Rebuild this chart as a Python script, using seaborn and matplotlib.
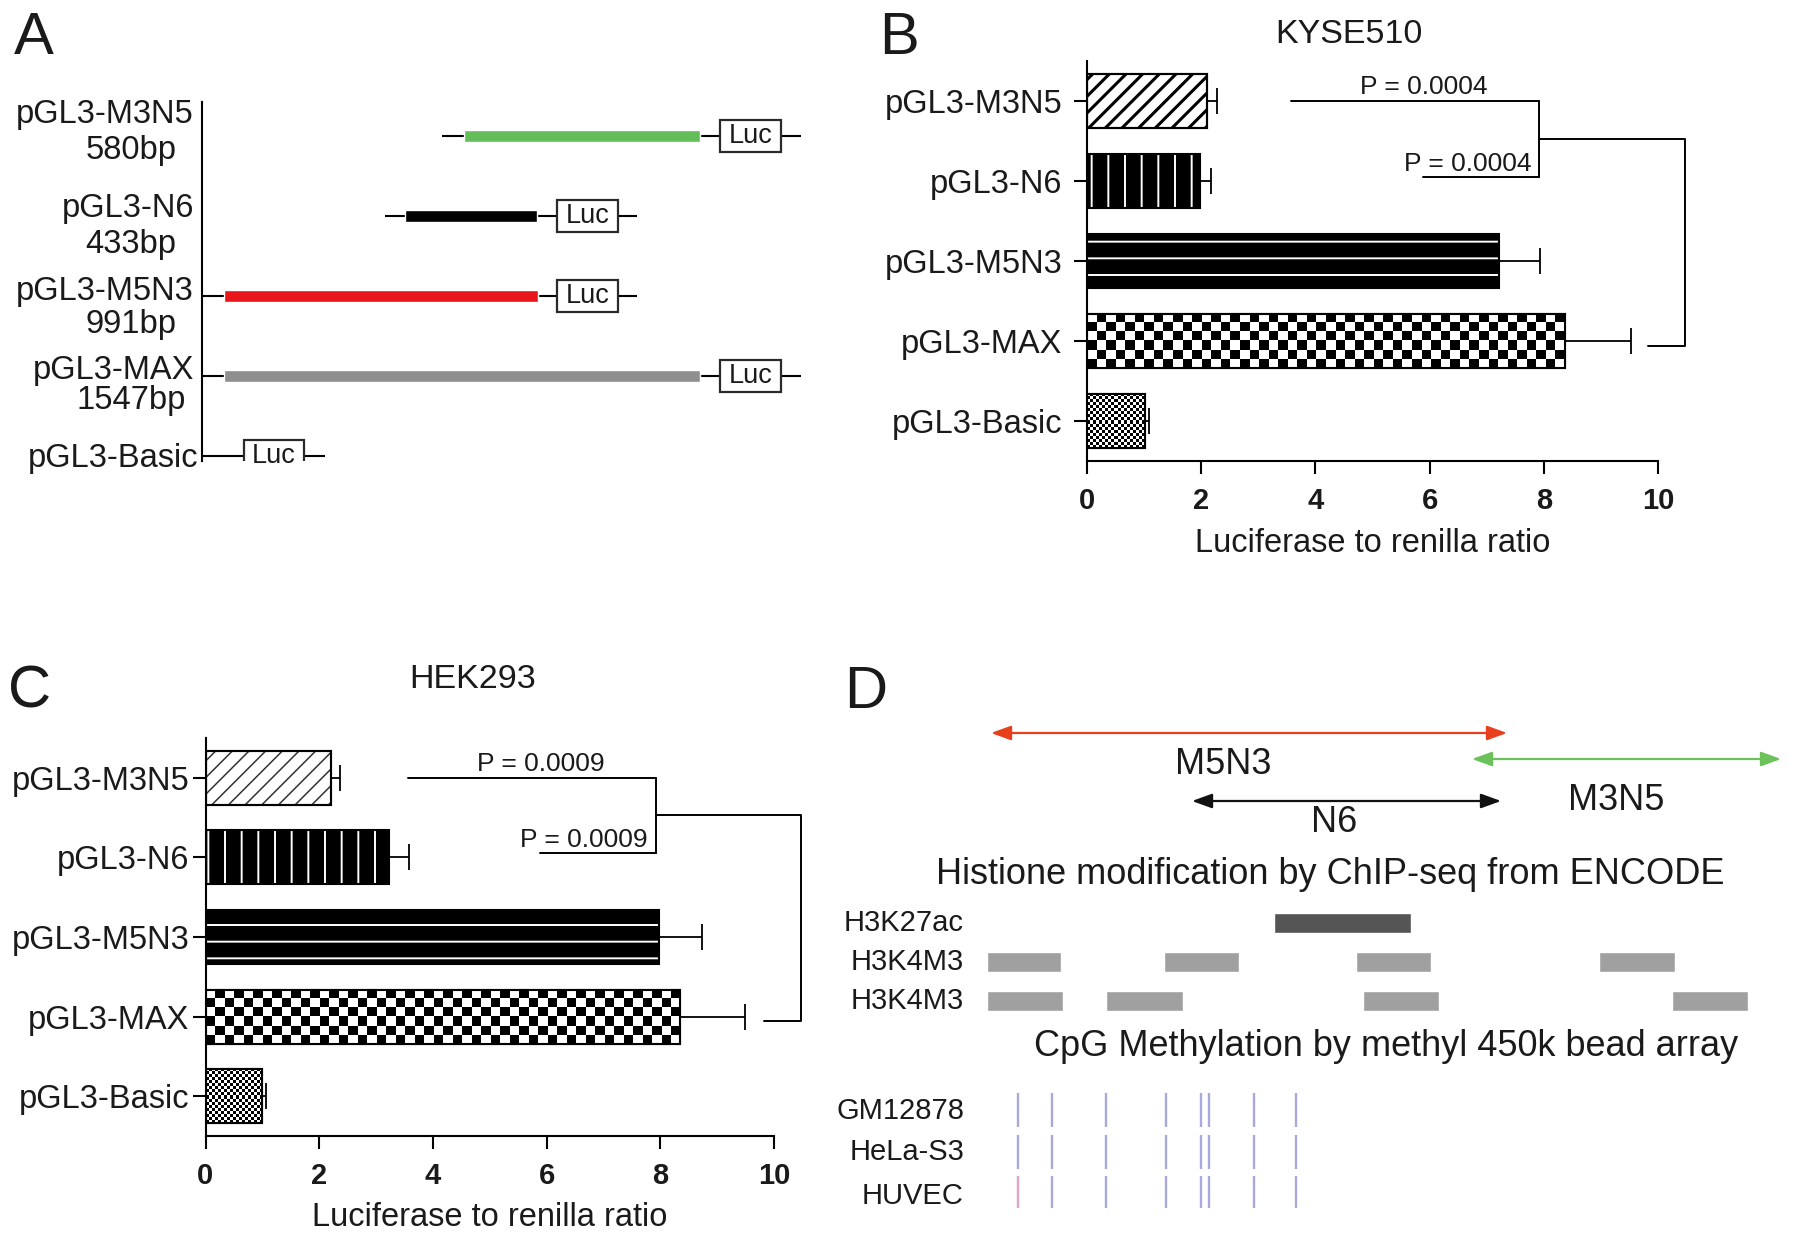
import numpy as np
import matplotlib
matplotlib.use('Agg')
import matplotlib.pyplot as plt
from matplotlib.patches import Rectangle
from matplotlib.colors import ListedColormap
import seaborn as sns

# ---- panel A: reporter constructs (schematic map units) ----
constructs = ['pGL3-M3N5', 'pGL3-N6', 'pGL3-M5N3', 'pGL3-MAX', 'pGL3-Basic']
construct_sizes = ['580bp', '433bp', '991bp', '1547bp']
insert_start = [262, 203, 22, 22]
insert_end = [498, 335, 336, 498]
insert_colors = ['#63be5a', '#000000', '#e8161b', '#8f8f8f']
backbone_start = [240, 183, 0, 0, 0]
backbone_end = [599, 435, 435, 599, 123]
luc_start = [518, 355, 355, 518, 42]
luc_end = [579, 416, 416, 579, 102]

# ---- panels B / C: luciferase to renilla ratio ----
kyse_mean = [2.11, 1.98, 7.22, 8.37, 1.01]
kyse_err = [0.17, 0.19, 0.71, 1.15, 0.08]
hek_mean = [2.20, 3.22, 7.98, 8.35, 0.99]
hek_err = [0.16, 0.36, 0.75, 1.14, 0.07]
kyse_p = ['P = 0.0004', 'P = 0.0004']
hek_p = ['P = 0.0009', 'P = 0.0009']
xticks = [0, 2, 4, 6, 8, 10]

# ---- panel D: genome tracks (relative position) ----
region_names = ['M5N3', 'N6', 'M3N5']
region_start = [171, 372, 652]
region_end = [687, 681, 961]
region_colors = ['#e8401c', '#111111', '#6cc25a']
h3k27ac_start = [454]
h3k27ac_end = [591]
h3k4m3_a_start = [167, 344, 536, 779]
h3k4m3_a_end = [241, 419, 611, 855]
h3k4m3_b_start = [167, 286, 543, 852]
h3k4m3_b_end = [243, 363, 619, 928]
cpg_pos = [198, 232, 286, 346, 381, 389, 434, 476]
cell_lines = ['GM12878', 'HeLa-S3', 'HUVEC']

sns.set_theme(style='ticks')
plt.rcParams['font.family'] = ['Liberation Sans', 'DejaVu Sans']
plt.rcParams['text.color'] = '#1a1a1a'
plt.rcParams['axes.edgecolor'] = 'black'
plt.rcParams['xtick.color'] = 'black'
plt.rcParams['ytick.color'] = 'black'
plt.rcParams['xtick.labelcolor'] = '#1a1a1a'
plt.rcParams['ytick.labelcolor'] = '#1a1a1a'
plt.rcParams['axes.labelcolor'] = '#1a1a1a'
plt.rcParams['hatch.linewidth'] = 1.4

W, H = 1795, 1243
fig = plt.figure(figsize=(W / 100, H / 100), dpi=100)


def px_axes(x0, y0, x1, y1):
    return fig.add_axes([x0 / W, 1 - y1 / H, (x1 - x0) / W, (y1 - y0) / H])


def checker(ax, bar, sq, ppx, ppy):
    x0, y0, w, h = bar.get_x(), bar.get_y(), bar.get_width(), bar.get_height()
    nr = max(2, int(round(h * ppy / sq)))
    nc = max(2, int(round(w * ppx / sq)))
    arr = np.add.outer(np.arange(nr), np.arange(nc)) % 2
    im = ax.imshow(arr, extent=(x0, x0 + w, y0 + h, y0), aspect='auto',
                   interpolation='nearest', cmap=ListedColormap(['white', 'black']),
                   zorder=2.5)
    im.set_clip_path(bar)


def luciferase_panel(ax, means, errs, pvals, title, title_xy, ytick_pad, xlab_pad,
                     diag_color, diag_lw):
    sns.barplot(x=means, y=constructs, orient='h', ax=ax, color='white', saturation=1,
                edgecolor='black', linewidth=1.5, width=0.68, errorbar=None)
    ax.set_xlim(0, 10)
    ax.set_ylim(4.5, -0.5)
    bb = ax.get_position()
    ppx = bb.width * W / 10
    ppy = bb.height * H / 5
    bars = list(ax.patches)[:5]
    for i, bar in enumerate(bars):
        if i == 0:
            bar.set_edgecolor(diag_color)
            bar.set_hatch('//')
            if hasattr(bar, 'set_hatch_linewidth'):
                bar.set_hatch_linewidth(diag_lw)
        elif i in (1, 2):
            bar.set_facecolor('black')
            bar.set_edgecolor('white')
            bar.set_linewidth(0)
            bar.set_hatch('|' if i == 1 else '-')
        elif i == 3:
            checker(ax, bar, 9.5, ppx, ppy)
        else:
            checker(ax, bar, 3.0, ppx, ppy)
        ax.add_patch(Rectangle((bar.get_x(), bar.get_y()), bar.get_width(), bar.get_height(),
                               fill=False, edgecolor='black', lw=1.5, zorder=3))
    ax.set_xlim(0, 10)
    ax.set_ylim(4.5, -0.5)
    ax.errorbar(means, np.arange(5), xerr=[np.zeros(5), errs], fmt='none', ecolor='black',
                elinewidth=1.3, capsize=9.5, capthick=1.3, zorder=4)

    # significance brackets
    kw = dict(color='black', lw=1.4, clip_on=False)
    ax.plot([3.57, 7.92], [0, 0], **kw)
    ax.plot([5.88, 7.92], [0.95, 0.95], **kw)
    ax.plot([7.92, 7.92], [0, 0.95], **kw)
    ax.plot([7.92, 10.47, 10.47, 9.82], [0.47, 0.47, 3.06, 3.06], **kw)
    ax.text(5.89, -0.09, pvals[0], ha='center', va='baseline', fontsize=19)
    ax.text(6.66, 0.87, pvals[1], ha='center', va='baseline', fontsize=19)

    ax.set_xticks(xticks)
    ax.tick_params(axis='x', length=9, width=1.5, pad=10, labelsize=21)
    ax.tick_params(axis='y', length=9.5, width=1.5, pad=ytick_pad, labelsize=23.5)
    for lbl in ax.get_xticklabels():
        lbl.set_fontweight('bold')
    ax.set_xlabel('Luciferase to renilla ratio', fontsize=23.5, labelpad=xlab_pad)
    ax.set_ylabel('')
    sns.despine(ax=ax)
    for s in ('left', 'bottom'):
        ax.spines[s].set_linewidth(1.5)
    ax.text(title_xy[0], title_xy[1], title, transform=ax.transAxes, ha='center',
            va='baseline', fontsize=24.5)


# ---- A ----
axA = px_axes(202, 102, 802, 461)
rows = np.arange(len(constructs))
axA.set_xlim(0, 600)
axA.set_ylim(4.0625, -0.425)
axA.hlines(rows, backbone_start, backbone_end, color='black', lw=1.5, zorder=1)
axA.barh(rows[:4], np.subtract(insert_end, insert_start), left=insert_start, height=0.156,
         color=insert_colors, zorder=2)
axA.barh(rows, np.subtract(luc_end, luc_start), left=luc_start, height=0.4, color='white',
         edgecolor='#2a2a2a', linewidth=1.6, zorder=3)
for r, (s, e) in enumerate(zip(luc_start, luc_end)):
    axA.text((s + e) / 2, r, 'Luc', ha='center', va='center', fontsize=19.5, zorder=4)
name_dy = [-0.27, -0.1, -0.06, -0.07, 0.03]
size_dy = [0.18, 0.35, 0.35, 0.31]
for r, name in enumerate(constructs):
    axA.text(-8 if r < 4 else -4, r + name_dy[r], name, ha='right', va='center', fontsize=23.5)
for r, size in enumerate(construct_sizes):
    axA.text(-71, r + size_dy[r], size, ha='center', va='center', fontsize=23.5)
for s in ('top', 'right', 'bottom'):
    axA.spines[s].set_visible(False)
axA.spines['left'].set_linewidth(1.5)
axA.set_xticks([])
axA.set_yticks([])
axA.patch.set_alpha(0)

# ---- B ----
axB = px_axes(1087, 61, 1658, 461)
luciferase_panel(axB, kyse_mean, kyse_err, kyse_p, 'KYSE510', (0.459, 1.045), 8, 9,
                 'black', 2.2)

# ---- C ----
axC = px_axes(205.5, 738, 774, 1136)
luciferase_panel(axC, hek_mean, hek_err, hek_p, 'HEK293', (0.469, 1.126), 2, 8,
                 '#333333', 1.1)

# ---- D ----
axD = px_axes(820, 620, 1795, 1243)
axD.set_xlim(0, 975)
axD.set_ylim(623, 0)
axD.axis('off')
arrow_y = [113, 181, 139]
label_xy = [(403, 145), (514, 203), (796, 180)]
for name, s, e, c, y, (tx, ty) in zip(region_names, region_start, region_end, region_colors,
                                       arrow_y, label_xy):
    axD.annotate('', xy=(e, y), xytext=(s, y),
                 arrowprops=dict(arrowstyle='<|-|>,head_length=0.55,head_width=0.2',
                                 color=c, lw=1.6, shrinkA=0, shrinkB=0, mutation_scale=22))
    axD.text(tx, ty, name, ha='center', va='center', fontsize=26)

axD.text(510, 254, 'Histione modification by ChIP-seq from ENCODE', ha='center',
         va='center', fontsize=26)
tracks = [('H3K27ac', h3k27ac_start, h3k27ac_end, '#555555', 303),
          ('H3K4M3', h3k4m3_a_start, h3k4m3_a_end, '#a0a0a0', 342),
          ('H3K4M3', h3k4m3_b_start, h3k4m3_b_end, '#a0a0a0', 381)]
for name, st, en, c, y in tracks:
    axD.barh([y] * len(st), np.subtract(en, st), left=st, height=20, color=c)
    axD.text(144, y, name, ha='right', va='center', fontsize=21)

axD.text(566, 427, 'CpG Methylation by methyl 450k bead array', ha='center', va='center',
         fontsize=26)
cpg_rows = [(473, 507, 491), (515, 549, 532), (556, 588, 576)]
for k, (cell, (y0, y1, ly)) in enumerate(zip(cell_lines, cpg_rows)):
    cols = ['#a9a9dd'] * len(cpg_pos)
    if cell == 'HUVEC':
        cols[0] = '#e3a3c6'
    axD.vlines(cpg_pos, y0, y1, colors=cols, lw=1.7)
    axD.text(144, ly, cell, ha='right', va='center', fontsize=21)

# panel letters
for letter, x, y in [('A', 34, 38), ('B', 899, 38), ('C', 30, 692), ('D', 866, 692)]:
    fig.text(x / W, 1 - y / H, letter, ha='center', va='center', fontsize=43)

fig.savefig('out.png', dpi=100)
